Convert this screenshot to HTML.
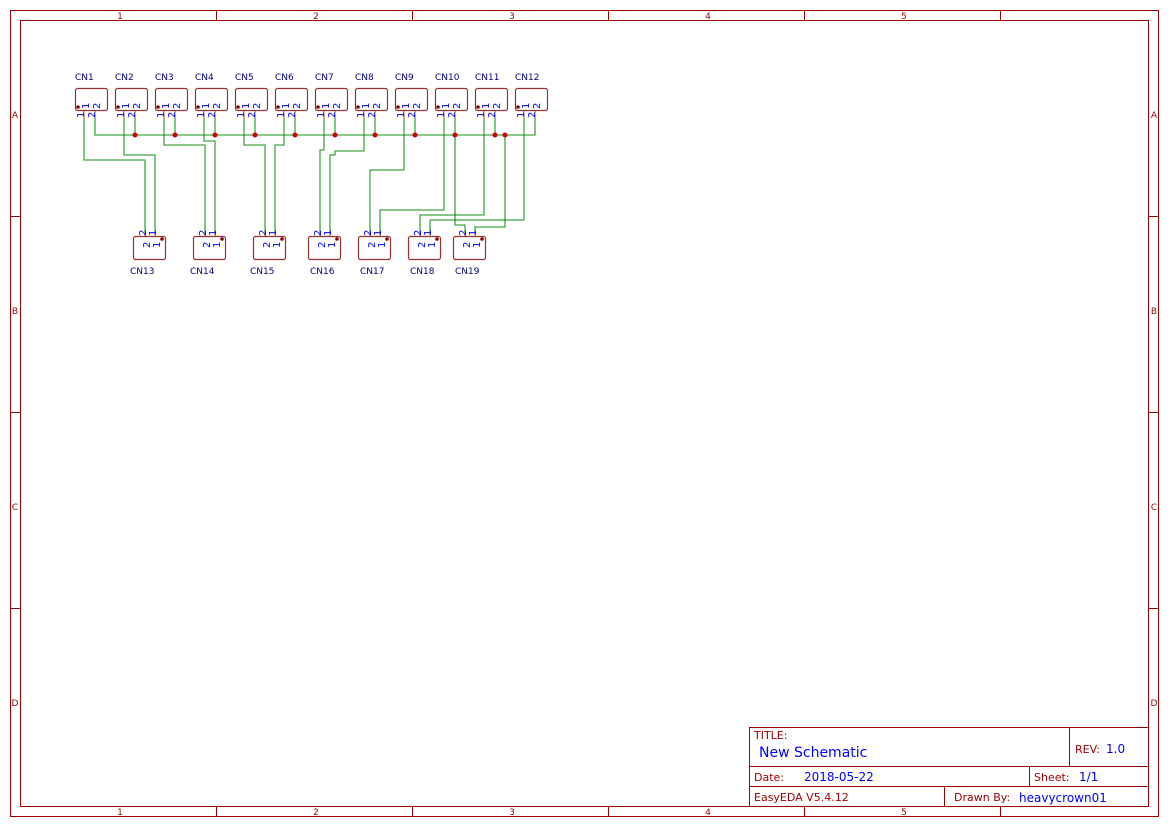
<!DOCTYPE html>
<html><head><meta charset="utf-8"><style>
html,body{margin:0;padding:0;background:#fff;}
svg{display:block;}
text{font-family:"DejaVu Sans","Liberation Sans",sans-serif;}
</style></head><body>
<svg width="1169" height="827" viewBox="0 0 1169 827" xmlns="http://www.w3.org/2000/svg">
<g fill="none" stroke="#990000" stroke-width="1">
<rect x="10.5" y="10.5" width="1148" height="806"/>
<rect x="20.5" y="20.5" width="1128" height="786"/>
<path d="M216.5 10.5V20.5M412.5 10.5V20.5M608.5 10.5V20.5M804.5 10.5V20.5M1000.5 10.5V20.5
M216.5 806.5V816.5M412.5 806.5V816.5M608.5 806.5V816.5M804.5 806.5V816.5M1000.5 806.5V816.5
M10.5 216.5H20.5M10.5 412.5H20.5M10.5 608.5H20.5M1148.5 216.5H1158.5M1148.5 412.5H1158.5M1148.5 608.5H1158.5"/>
<rect x="749.5" y="727.5" width="399" height="79"/>
<path d="M749.5 766.5H1148.5M749.5 786.5H1148.5M1069.5 727.5V766.5M1029.5 766.5V786.5M944.5 786.5V806.5"/>
</g>
<g fill="#990000" font-size="9" text-anchor="middle">
<text x="120" y="19">1</text><text x="316" y="19">2</text><text x="512" y="19">3</text><text x="708" y="19">4</text><text x="904" y="19">5</text>
<text x="120" y="815">1</text><text x="316" y="815">2</text><text x="512" y="815">3</text><text x="708" y="815">4</text><text x="904" y="815">5</text>
<text x="15" y="118">A</text><text x="15" y="314">B</text><text x="15" y="510">C</text><text x="15" y="706">D</text>
<text x="1154" y="118">A</text><text x="1154" y="314">B</text><text x="1154" y="510">C</text><text x="1154" y="706">D</text>
</g>
<g font-size="11" fill="#990000">
<text x="754" y="739">TITLE:</text>
<text x="1075" y="753">REV:</text>
<text x="754" y="781">Date:</text>
<text x="1034" y="781">Sheet:</text>
<text x="754" y="801">EasyEDA V5.4.12</text>
<text x="954" y="801">Drawn By:</text>
</g>
<g fill="#0000ff">
<text x="759" y="757" font-size="14">New Schematic</text>
<text x="1106" y="753" font-size="12">1.0</text>
<text x="804" y="781" font-size="12">2018-05-22</text>
<text x="1079" y="781" font-size="12">1/1</text>
<text x="1019" y="802" font-size="12">heavycrown01</text>
</g>

<g fill="none" stroke="#008800" stroke-opacity="0.75" stroke-width="1.3">
<path d="M95 118V135H535V118"/>
<path d="M135 118V135M175 118V135M215 118V135M255 118V135M295 118V135M335 118V135M375 118V135M415 118V135M455 118V135M495 118V135"/>
<path d="M84 118V160H145V233"/>
<path d="M124 118V155H155V233"/>
<path d="M164 118V145H205V233"/>
<path d="M204 118V141H215V233"/>
<path d="M244 118V145H265V233"/>
<path d="M284 118V145H275V233"/>
<path d="M324 118V150H320V233"/>
<path d="M364 118V151H335V155H330V233"/>
<path d="M404 118V170H370V233"/>
<path d="M444 118V210H380V233"/>
<path d="M484 118V215H420V233"/>
<path d="M524 118V220H430V233"/>
<path d="M455 135V225H465V233"/>
<path d="M505 135V227H475V233"/>
</g>
<g fill="#cc0000">
<circle cx="135" cy="135" r="2.5"/><circle cx="175" cy="135" r="2.5"/><circle cx="215" cy="135" r="2.5"/><circle cx="255" cy="135" r="2.5"/><circle cx="295" cy="135" r="2.5"/><circle cx="335" cy="135" r="2.5"/><circle cx="375" cy="135" r="2.5"/><circle cx="415" cy="135" r="2.5"/><circle cx="455" cy="135" r="2.5"/><circle cx="495" cy="135" r="2.5"/><circle cx="505" cy="135" r="2.5"/>
</g>

<defs>
<g id="top">
<rect x="0.5" y="0.5" width="32" height="22" rx="2" fill="none" stroke="#993333" stroke-width="1.2"/>
<circle cx="3" cy="19" r="1.8" fill="#880000"/>
<path d="M9 23V30M20 23V30" stroke="#993333" stroke-opacity="0.7" stroke-width="1.2"/>
<g fill="#0000ff" font-size="10" font-family="DejaVu Sans, sans-serif">
<text transform="translate(14,21) rotate(-90)">1</text>
<text transform="translate(25,21) rotate(-90)">2</text>
<text transform="translate(9,30) rotate(-90)">1</text>
<text transform="translate(20,30) rotate(-90)">2</text>
</g>
</g>
<g id="bot">
<rect x="0.5" y="0.5" width="32" height="23" rx="2" fill="none" stroke="#993333" stroke-width="1.2"/>
<circle cx="29" cy="3" r="1.8" fill="#880000"/>
<path d="M12 -3V0M22 -3V0" stroke="#993333" stroke-opacity="0.7" stroke-width="1.2"/>
<g fill="#0000ff" font-size="10" font-family="DejaVu Sans, sans-serif">
<text transform="translate(17,12) rotate(-90)">2</text>
<text transform="translate(27,12) rotate(-90)">1</text>
<text transform="translate(13,0) rotate(-90)">2</text>
<text transform="translate(23,0) rotate(-90)">1</text>
</g>
</g>
</defs>
<g>
<use href="#top" x="75" y="88"/><use href="#top" x="115" y="88"/><use href="#top" x="155" y="88"/><use href="#top" x="195" y="88"/>
<use href="#top" x="235" y="88"/><use href="#top" x="275" y="88"/><use href="#top" x="315" y="88"/><use href="#top" x="355" y="88"/>
<use href="#top" x="395" y="88"/><use href="#top" x="435" y="88"/><use href="#top" x="475" y="88"/><use href="#top" x="515" y="88"/>
<use href="#bot" x="133" y="236"/><use href="#bot" x="193" y="236"/><use href="#bot" x="253" y="236"/><use href="#bot" x="308" y="236"/>
<use href="#bot" x="358" y="236"/><use href="#bot" x="408" y="236"/><use href="#bot" x="453" y="236"/>
</g>
<g fill="#000080" font-size="9">
<text x="75" y="80">CN1</text><text x="115" y="80">CN2</text><text x="155" y="80">CN3</text><text x="195" y="80">CN4</text>
<text x="235" y="80">CN5</text><text x="275" y="80">CN6</text><text x="315" y="80">CN7</text><text x="355" y="80">CN8</text>
<text x="395" y="80">CN9</text><text x="435" y="80">CN10</text><text x="475" y="80">CN11</text><text x="515" y="80">CN12</text>
<text x="130" y="274">CN13</text><text x="190" y="274">CN14</text><text x="250" y="274">CN15</text><text x="310" y="274">CN16</text>
<text x="360" y="274">CN17</text><text x="410" y="274">CN18</text><text x="455" y="274">CN19</text>
</g>
</svg>
</body></html>
